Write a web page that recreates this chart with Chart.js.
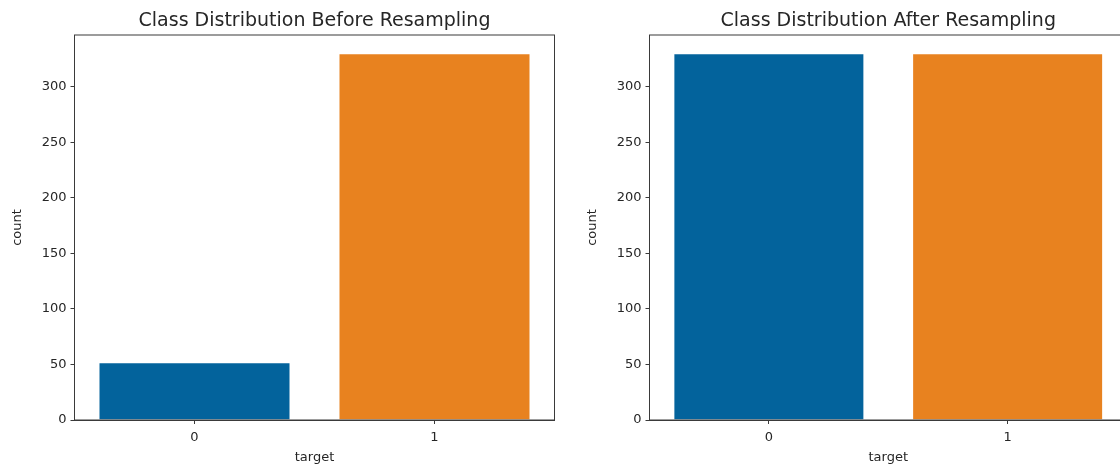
<!DOCTYPE html>
<html>
<head>
<meta charset="utf-8">
<script src="https://cdn.jsdelivr.net/npm/chart.js@4.4.1/dist/chart.umd.min.js"></script>
<style>
  html, body { margin: 0; padding: 0; background: #fff; overflow: hidden; }
  body { width: 1120px; height: 466px; position: relative; }
  .box { position: absolute; top: 0; height: 466px; }
  #leftBox { left: 0; width: 560px; }
  #rightBox { left: 560px; width: 575px; }
</style>
</head>
<body>
<div class="box" id="leftBox"><canvas id="beforeCanvas"></canvas></div>
<div class="box" id="rightBox"><canvas id="afterCanvas"></canvas></div>
<script>
const classLabels = ["0", "1"];
const countsBefore = [52, 330];
const countsAfter = [330, 330];
const barColors = ["#03639c", "#e8821f"];
const yTicks = [0, 50, 100, 150, 200, 250, 300];
const yMax = 346.5;

const textColor = "#262626";
const axisColor = "#3a3a3a";
const fontFamily = "'DejaVu Sans', sans-serif";

// matplotlib draws all four spines, Chart.js only the two axes
const frameBox = {
  id: "frameBox",
  afterDraw(chart) {
    const { ctx, chartArea } = chart;
    ctx.save();
    ctx.strokeStyle = axisColor;
    ctx.lineWidth = 1;
    ctx.strokeRect(chartArea.left, chartArea.top, chartArea.right - chartArea.left, chartArea.bottom - chartArea.top);
    ctx.restore();
  }
};

const makeChart = (canvasId, title, counts, padLeft, padRight) => {
  return new Chart(document.getElementById(canvasId), {
    type: "bar",
    data: {
      labels: classLabels,
      datasets: [
        {
          data: counts,
          backgroundColor: barColors,
          borderColor: "rgba(255,255,255,0.35)",
          borderWidth: 1,
          categoryPercentage: 1.0,
          barPercentage: 0.8,
        },
      ],
    },
    options: {
      responsive: true,
      maintainAspectRatio: false,
      animation: false,
      layout: { padding: { left: padLeft, right: padRight, top: 0, bottom: 0 } },
      plugins: {
        legend: { display: false },
        tooltip: { enabled: false },
        title: {
          display: true,
          text: title,
          fullSize: false,
          color: textColor,
          font: { family: fontFamily, size: 19, weight: "normal", lineHeight: 1.2 },
          padding: { top: 10, bottom: 2.2 },
        },
      },
      scales: {
        x: {
          grid: { display: true, offset: false, drawOnChartArea: false, drawTicks: true, tickLength: 4, color: axisColor },
          border: { color: axisColor, width: 1 },
          ticks: { color: textColor, padding: 6, font: { family: fontFamily, size: 13 } },
          title: {
            display: true,
            text: "target",
            color: textColor,
            font: { family: fontFamily, size: 13 },
            padding: { top: 2, bottom: 1 },
          },
          afterFit: (scale) => { scale.height = 46; },
        },
        y: {
          min: 0,
          max: yMax,
          grid: { display: true, drawOnChartArea: false, drawTicks: true, tickLength: 4, color: axisColor },
          border: { color: axisColor, width: 1 },
          afterBuildTicks: (scale) => { scale.ticks = yTicks.map((v) => ({ value: v })); },
          ticks: {
            color: textColor,
            padding: 4,
            font: { family: fontFamily, size: 13 },
          },
          title: {
            display: true,
            text: "count",
            color: textColor,
            font: { family: fontFamily, size: 13 },
            padding: { top: 10, bottom: 0 },
          },
          afterFit: (scale) => { scale.width = 74.5; },
        },
      },
    },
    plugins: [frameBox],
  });
};

makeChart("beforeCanvas", "Class Distribution Before Resampling", countsBefore, 0, 5.5);
makeChart("afterCanvas", "Class Distribution After Resampling", countsAfter, 15, 8);
</script>
</body>
</html>
